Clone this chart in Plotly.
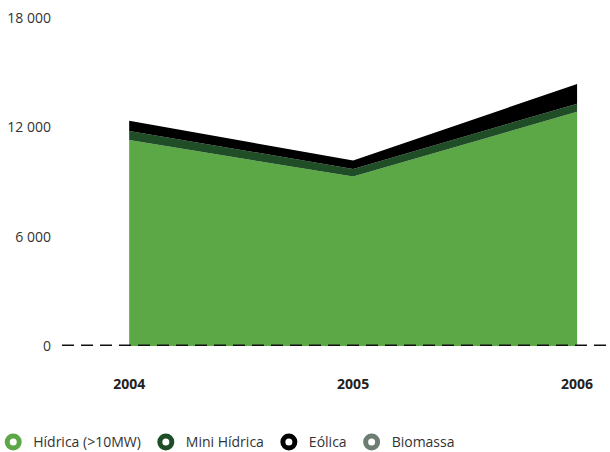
import plotly.graph_objects as go

years = [2004, 2005, 2006]
hidrica = [11300, 9300, 12850]
mini_hidrica = [500, 420, 450]
eolica = [560, 460, 1080]
biomassa = [0, 0, 0]

series_names = ["Hídrica (>10MW)", "Mini Hídrica", "Eólica", "Biomassa"]
series_values = [hidrica, mini_hidrica, eolica, biomassa]
colors = ["#5DA846", "#1E4D26", "#000000", "#6E7D71"]

y_ticks = [0, 6000, 12000, 18000]
y_tick_text = ["0", "6 000", "12 000", "18 000"]

fig = go.Figure()
for name, vals, col in zip(series_names, series_values, colors):
    fig.add_trace(go.Scatter(
        x=years, y=vals, stackgroup="one", mode="none",
        fillcolor=col, line=dict(width=0), name=name, showlegend=False,
        hoverinfo="x+y+name"))
for name, col in zip(series_names, colors):
    fig.add_trace(go.Scatter(
        x=[None], y=[None], mode="markers", name=name,
        marker=dict(symbol="circle", size=12, color="white",
                    line=dict(color=col, width=5))))

fig.add_shape(type="line", xref="paper", yref="y", x0=0, x1=1, y0=0, y1=0,
              line=dict(color="#111111", width=3, dash="12px,7px"), layer="above")

fig.update_layout(
    width=610, height=452,
    margin=dict(l=62, r=0, t=18, b=106, autoexpand=False),
    paper_bgcolor="white", plot_bgcolor="white",
    font=dict(family="Open Sans, sans-serif", color="#333333", size=13),
    xaxis=dict(range=[2003.70, 2006.147], tickmode="array", tickvals=years,
               ticktext=[f"<b>{y}</b>" for y in years], showgrid=False,
               zeroline=False, showline=False, ticks="",
               ticklabelstandoff=28, tickfont=dict(size=14, color="#222222")),
    yaxis=dict(range=[0, 18000], tickmode="array", tickvals=y_ticks,
               ticktext=y_tick_text, showgrid=False, zeroline=False,
               showline=False, ticks="", ticklabelstandoff=10,
               tickfont=dict(size=14, color="#333333")),
    legend=dict(orientation="h", x=-0.1255, xanchor="left", y=-0.245, yanchor="top",
                font=dict(size=14, color="#333333"), traceorder="normal",
                itemwidth=30, itemsizing="trace"),
    showlegend=True,
)

fig.write_html("out.html", config={"displayModeBar": False},
               post_script="document.body.style.margin='0';")
